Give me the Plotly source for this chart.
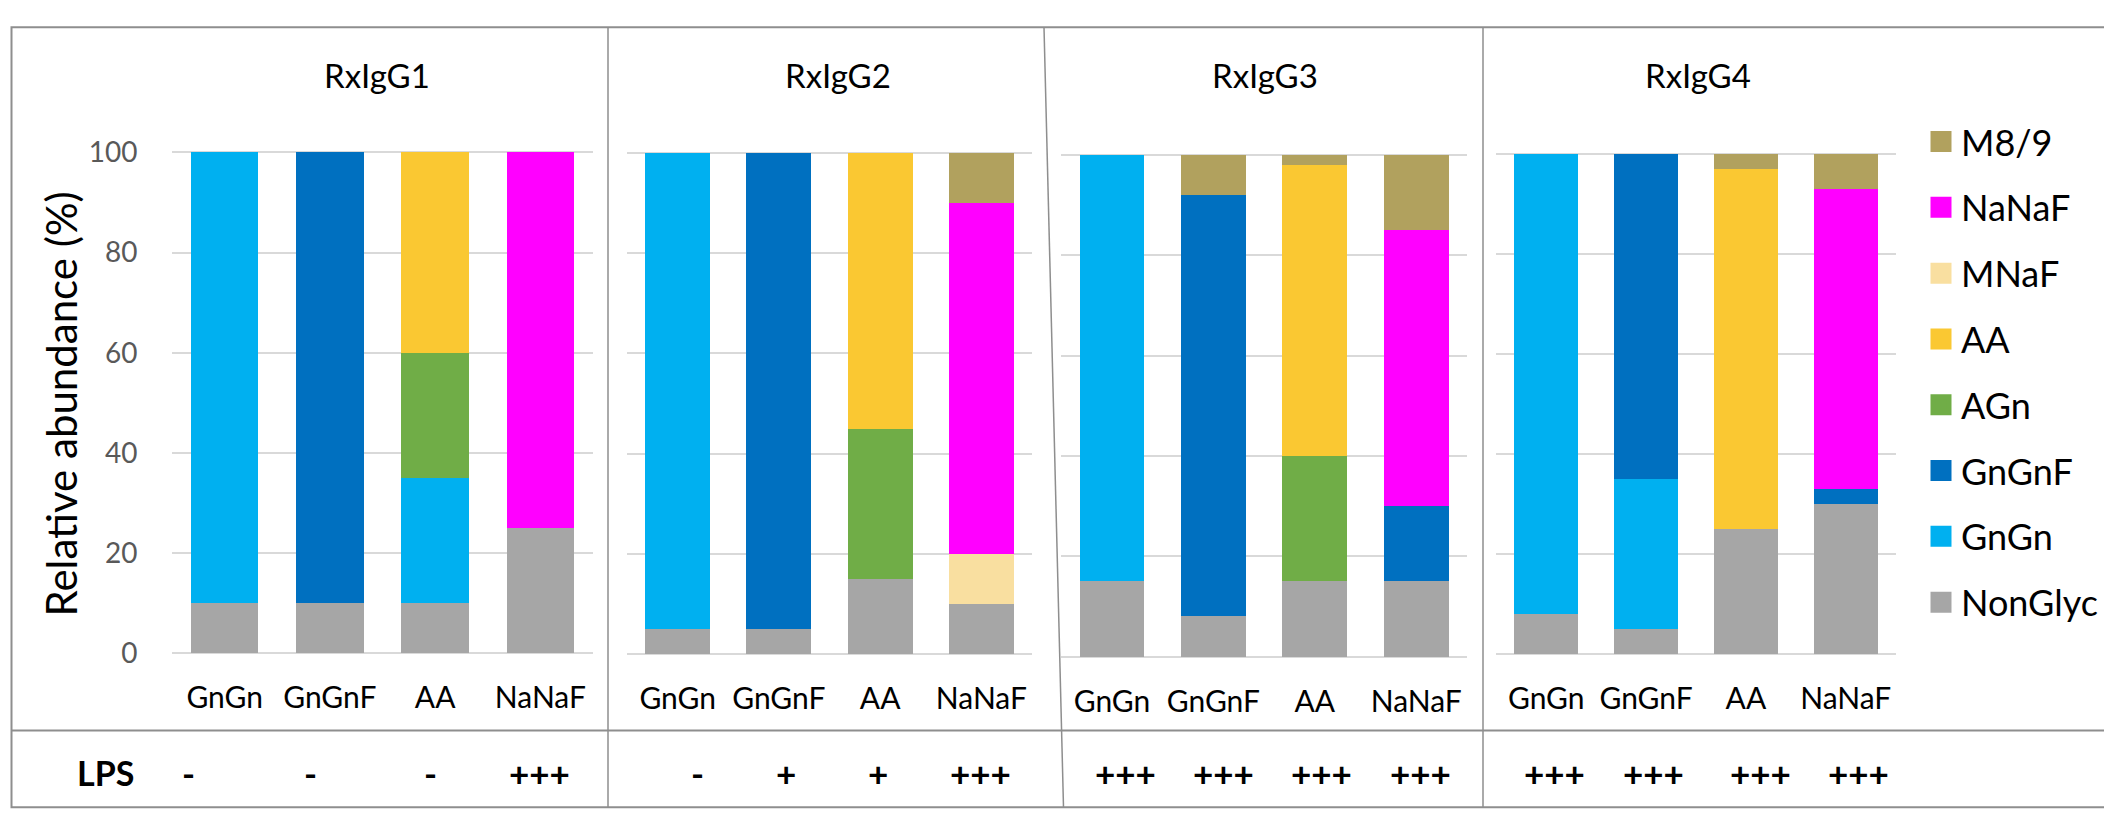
import plotly.graph_objects as go

W, H = 2112, 818

# ---------------- data ----------------
categories = ["GnGn", "GnGnF", "AA", "NaNaF"]
panels = ["RxIgG1", "RxIgG2", "RxIgG3", "RxIgG4"]

# values per panel (RxIgG1..4), each list over categories
nonglyc = [[10, 10, 10, 25], [5, 5, 15, 10], [15, 8, 15, 15], [8, 5, 25, 30]]
gngn = [[90, 0, 25, 0], [95, 0, 0, 0], [85, 0, 0, 0], [92, 30, 0, 0]]
gngnf = [[0, 90, 0, 0], [0, 95, 0, 0], [0, 84, 0, 15], [0, 65, 0, 3]]
agn = [[0, 0, 25, 0], [0, 0, 30, 0], [0, 0, 25, 0], [0, 0, 0, 0]]
aa = [[0, 0, 40, 0], [0, 0, 55, 0], [0, 0, 58, 0], [0, 0, 72, 0]]
mnaf = [[0, 0, 0, 0], [0, 0, 0, 10], [0, 0, 0, 0], [0, 0, 0, 0]]
nanaf = [[0, 0, 0, 75], [0, 0, 0, 70], [0, 0, 0, 55], [0, 0, 0, 60]]
m89 = [[0, 0, 0, 0], [0, 0, 0, 10], [0, 8, 2, 15], [0, 0, 3, 7]]

lps = [["-", "-", "-", "+++"],
       ["-", "+", "+", "+++"],
       ["+++", "+++", "+++", "+++"],
       ["+++", "+++", "+++", "+++"]]

y_ticks = [0, 20, 40, 60, 80, 100]

series_names = ["NonGlyc", "GnGn", "GnGnF", "AGn", "AA", "MNaF", "NaNaF", "M8/9"]
series_values = [nonglyc, gngn, gngnf, agn, aa, mnaf, nanaf, m89]

# ---------------- styles / layout (pixels) ----------------
series_colors = ["#A6A6A6", "#00B0F0", "#0070C0", "#70AD47",
                 "#FAC832", "#F9DFA0", "#FF00FF", "#B1A15E"]

FONT = "Lato, 'Open Sans', sans-serif"
x_dom_px = [(164, 585), (619, 1024), (1053.3, 1459), (1488.3, 1887.7)]
y_dom_px = [(133.3, 653.3), (134, 654), (136, 656.7), (135, 654.3)]  # (y of 100, y of 0)
title_x_px = [369, 830, 1256.7, 1689.7]
lps_x_px = [[180, 302, 422, 531], [689, 778, 870, 972],
            [1117, 1215, 1313, 1412], [1546, 1645, 1752, 1850]]
PAD = 0.4  # extra range so the 0 and 100 gridlines are kept


def fx(x):
    return x / W


def fy(y):
    return 1 - y / H


fig = go.Figure()

for p in range(4):
    ax = "" if p == 0 else str(p + 1)
    for name, vals, col in zip(series_names, series_values, series_colors):
        fig.add_trace(go.Bar(
            x=categories, y=vals[p], name=name, legendgroup=name,
            showlegend=False, marker=dict(color=col, line=dict(width=0)),
            xaxis="x" + ax, yaxis="y" + ax,
            hovertemplate=name + ": %{y}<extra>" + panels[p] + "</extra>",
        ))

# legend entries (top to bottom)
for name, col in zip(series_names[::-1], series_colors[::-1]):
    fig.add_trace(go.Scatter(
        x=[None], y=[None], mode="markers", name=name, legendgroup=name,
        marker=dict(symbol="square", size=16, color=col, line=dict(color=col, width=5)),
        xaxis="x", yaxis="y", hoverinfo="skip",
    ))

layout = dict(
    width=W, height=H, autosize=False,
    margin=dict(l=0, r=0, t=0, b=0),
    paper_bgcolor="white", plot_bgcolor="white",
    barmode="stack", bargap=0.36,
    font=dict(family=FONT, color="black"),
    legend=dict(x=fx(1913), xanchor="left", y=fy(91), yanchor="top",
                font=dict(size=36, color="black", family=FONT),
                tracegroupgap=16, bgcolor="rgba(0,0,0,0)", borderwidth=0),
)

for p in range(4):
    ax = "" if p == 0 else str(p + 1)
    top, bot = y_dom_px[p]
    unit = (bot - top) / 100.0
    dtop, dbot = top - PAD * unit, bot + PAD * unit
    layout["xaxis" + ax] = dict(
        domain=[fx(x_dom_px[p][0]), fx(x_dom_px[p][1])],
        anchor="y" + ax, type="category", categoryorder="array",
        categoryarray=categories, range=[-0.5, 3.5],
        showgrid=False, zeroline=False, showline=False,
        ticks="outside", ticklen=16, tickcolor="rgba(0,0,0,0)",
        tickfont=dict(size=30, color="black", family=FONT), fixedrange=True,
    )
    layout["yaxis" + ax] = dict(
        domain=[fy(dbot), fy(dtop)], anchor="x" + ax,
        range=[-PAD, 100 + PAD], tickvals=y_ticks,
        showgrid=True, gridcolor="#D9D9D9", gridwidth=2,
        zeroline=False, showline=False,
        showticklabels=(p == 0),
        ticks="outside" if p == 0 else "", ticklen=28, tickcolor="rgba(0,0,0,0)",
        tickfont=dict(size=28, color="#595959", family=FONT), fixedrange=True,
    )

fig.update_layout(**layout)

# ---------------- annotations ----------------
ann = []
for p in range(4):
    ann.append(dict(text=panels[p], x=fx(title_x_px[p]), y=fy(53), xref="paper", yref="paper",
                    xanchor="center", yanchor="middle", showarrow=False,
                    font=dict(size=33, color="black", family=FONT)))
    for c in range(4):
        ann.append(dict(text=lps[p][c], x=fx(lps_x_px[p][c]), y=fy(777), xref="paper", yref="paper",
                        xanchor="center", yanchor="middle", showarrow=False,
                        font=dict(size=35, color="black", family=FONT, weight="bold")))
ann.append(dict(text="LPS", x=fx(97), y=fy(777), xref="paper", yref="paper",
                xanchor="center", yanchor="middle", showarrow=False,
                font=dict(size=34, color="black", family=FONT, weight="bold")))
ann.append(dict(text="Relative abundance (%)", x=fx(53), y=fy(395), xref="paper", yref="paper",
                xanchor="center", yanchor="middle", showarrow=False, textangle=-90,
                font=dict(size=42, color="black", family=FONT)))
fig.update_layout(annotations=ann)

# ---------------- frame lines ----------------
BC = "#8E8E8E"
shapes = [
    dict(type="rect", xref="paper", yref="paper", x0=fx(3.5), x1=fx(2106), y0=fy(813), y1=fy(3.5),
         line=dict(color=BC, width=2)),
    dict(type="line", xref="paper", yref="paper", x0=fx(3.5), x1=fx(2106), y0=fy(733.3), y1=fy(733.3),
         line=dict(color=BC, width=2)),
    dict(type="line", xref="paper", yref="paper", x0=fx(600), x1=fx(600), y0=fy(3.5), y1=fy(813),
         line=dict(color=BC, width=1.5)),
    dict(type="line", xref="paper", yref="paper", x0=fx(1036), x1=fx(1055.5), y0=fy(3.5), y1=fy(813),
         line=dict(color=BC, width=1.5)),
    dict(type="line", xref="paper", yref="paper", x0=fx(1475), x1=fx(1475), y0=fy(3.5), y1=fy(813),
         line=dict(color=BC, width=1.5)),
]
fig.update_layout(shapes=shapes)

fig.write_html("out.html")
